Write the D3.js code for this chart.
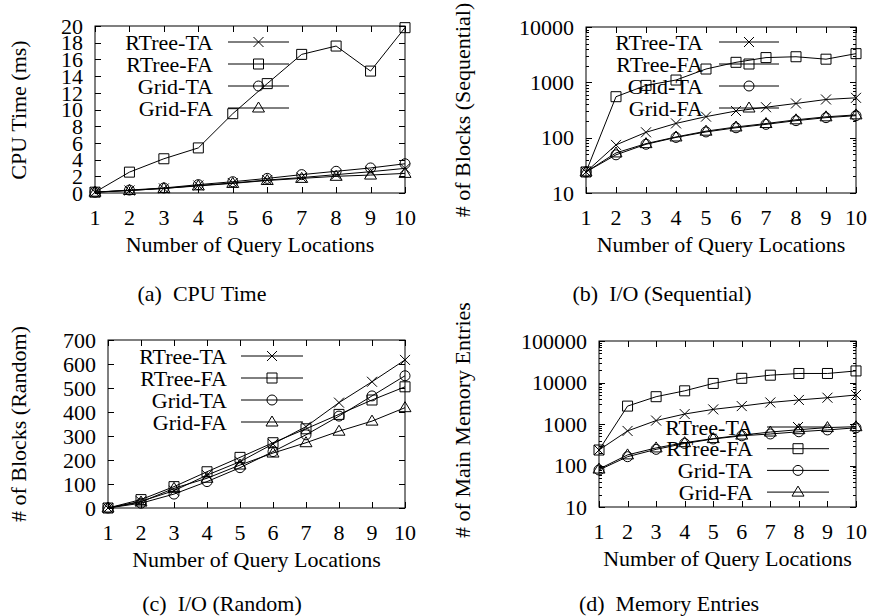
<!DOCTYPE html>
<html>
<head>
<meta charset="utf-8">
<title>Query locations</title>
<script src="https://d3js.org/d3.v7.min.js"></script>
<style>
body { margin: 0; background: #fff; }
svg { font-family: "Liberation Serif", "Times New Roman", serif; }
text { font-size: 22px; fill: #000; }
.caption { white-space: pre; }
</style>
</head>
<body>
<script>
var queries = [1, 2, 3, 4, 5, 6, 7, 8, 9, 10];
var seriesNames = ["RTree-TA", "RTree-FA", "Grid-TA", "Grid-FA"];
var symbols = ["cross", "square", "circle", "triangle"];

// (a) CPU time in ms
var cpuRtreeTA = [0.1, 0.3, 0.55, 0.9, 1.2, 1.55, 1.85, 2.2, 2.55, 2.95];
var cpuRtreeFA = [0.1, 2.5, 4.1, 5.4, 9.5, 13.1, 16.6, 17.6, 14.6, 19.8];
var cpuGridTA = [0.1, 0.35, 0.6, 1.0, 1.35, 1.75, 2.2, 2.6, 3.0, 3.5];
var cpuGridFA = [0.1, 0.3, 0.55, 0.85, 1.15, 1.5, 1.75, 2.0, 2.15, 2.35];

// (b) sequential blocks
var seqRtreeTA = [24, 74, 125, 181, 240, 303, 355, 415, 490, 525];
var seqRtreeFA = [24, 550, 880, 1100, 1740, 2300, 2800, 2900, 2620, 3300];
var seqGridTA = [24, 49, 76, 101, 127, 151, 174, 203, 230, 250];
var seqGridFA = [24, 53, 78, 103, 131, 156, 180, 210, 238, 258];

// (c) random blocks
var randRtreeTA = [0, 28, 72, 137, 193, 267, 339, 439, 526, 617];
var randRtreeFA = [0, 35, 89, 151, 211, 272, 330, 390, 450, 505];
var randGridTA = [0, 20, 58, 110, 168, 235, 305, 383, 467, 551];
var randGridFA = [0, 25, 82, 124, 179, 229, 272, 320, 362, 418];

// (d) main memory entries
var memRtreeTA = [236, 680, 1210, 1740, 2250, 2700, 3300, 3800, 4300, 5000];
var memRtreeFA = [236, 2700, 4550, 6300, 9500, 12600, 15000, 16500, 16500, 19000];
var memGridTA = [78, 163, 245, 340, 435, 520, 575, 650, 720, 810];
var memGridFA = [82, 180, 265, 355, 445, 540, 640, 730, 820, 860];

var cpuTicks = [0, 2, 4, 6, 8, 10, 12, 14, 16, 18, 20];
var seqTicks = [10, 100, 1000, 10000];
var randTicks = [0, 100, 200, 300, 400, 500, 600, 700];
var memTicks = [10, 100, 1000, 10000, 100000];

var panels = [
  {caption: "(a)  CPU Time", ylabel: "CPU Time (ms)", log: false, domain: [0, 20], ticks: cpuTicks,
   data: [cpuRtreeTA, cpuRtreeFA, cpuGridTA, cpuGridFA],
   box: {left: 95, right: 405, top: 26, bottom: 193}, ylabelX: 18, ylabelY: 110, captionX: 202, captionY: 293,
   legend: {textRight: 213, x0: 228, x1: 289, y: 42, step: 22}},
  {caption: "(b)  I/O (Sequential)", ylabel: "# of Blocks (Sequential)", log: true, domain: [10, 10000], ticks: seqTicks,
   data: [seqRtreeTA, seqRtreeFA, seqGridTA, seqGridFA],
   box: {left: 586, right: 856, top: 27, bottom: 193}, ylabelX: 462, ylabelY: 110, captionX: 662, captionY: 293,
   legend: {textRight: 703, x0: 719, x1: 779, y: 42, step: 22}},
  {caption: "(c)  I/O (Random)", ylabel: "# of Blocks (Random)", log: false, domain: [0, 700], ticks: randTicks,
   data: [randRtreeTA, randRtreeFA, randGridTA, randGridFA],
   box: {left: 108, right: 405, top: 340, bottom: 508}, ylabelX: 18, ylabelY: 424, captionX: 222, captionY: 603,
   legend: {textRight: 227, x0: 241, x1: 303, y: 356, step: 22}},
  {caption: "(d)  Memory Entries", ylabel: "# of Main Memory Entries", log: true, domain: [10, 100000], ticks: memTicks,
   data: [memRtreeTA, memRtreeFA, memGridTA, memGridFA],
   box: {left: 599, right: 856, top: 341, bottom: 507}, ylabelX: 462, ylabelY: 420, captionX: 669, captionY: 603,
   legend: {textRight: 753, x0: 767, x1: 829, y: 427, step: 21.7}}
];

var svg = d3.select("body").append("svg")
    .attr("width", 869)
    .attr("height", 616);

function marker(g, type, x, y) {
  if (type == "circle") {
    g.append("circle").attr("cx", x).attr("cy", y).attr("r", 5)
      .attr("fill", "none").attr("stroke", "#000");
  } else {
    var p = d3.path();
    if (type == "square") {
      p.rect(x - 5, y - 5, 10, 10);
    } else if (type == "triangle") {
      p.moveTo(x, y - 6); p.lineTo(x + 6, y + 4); p.lineTo(x - 6, y + 4); p.closePath();
    } else {
      p.moveTo(x - 5, y - 5); p.lineTo(x + 5, y + 5);
      p.moveTo(x + 5, y - 5); p.lineTo(x - 5, y + 5);
    }
    g.append("path").attr("d", p.toString())
      .attr("fill", "none").attr("stroke", "#000");
  }
}

panels.forEach(function(pn) {
  var b = pn.box;
  var g = svg.append("g");
  var x = d3.scaleLinear().domain([1, 10]).range([b.left, b.right]);
  var y = (pn.log ? d3.scaleLog() : d3.scaleLinear()).domain(pn.domain).range([b.bottom, b.top]);

  // frame
  g.append("rect")
      .attr("x", b.left).attr("y", b.top)
      .attr("width", b.right - b.left).attr("height", b.bottom - b.top)
      .attr("fill", "none").attr("stroke", "#000");

  // x ticks, mirrored on top
  queries.forEach(function(q) {
    var px = Math.round(x(q)) + 0.5;
    g.append("line").attr("x1", px).attr("x2", px).attr("y1", b.bottom).attr("y2", b.bottom - 6).attr("stroke", "#000");
    g.append("line").attr("x1", px).attr("x2", px).attr("y1", b.top).attr("y2", b.top + 6).attr("stroke", "#000");
    g.append("text").attr("x", x(q)).attr("y", b.bottom + 24).attr("dy", "0.35em")
      .attr("text-anchor", "middle").text(q);
  });

  // y ticks, mirrored on right
  pn.ticks.forEach(function(t) {
    var py = Math.round(y(t)) + 0.5;
    g.append("line").attr("x1", b.left).attr("x2", b.left + 6).attr("y1", py).attr("y2", py).attr("stroke", "#000");
    g.append("line").attr("x1", b.right).attr("x2", b.right - 6).attr("y1", py).attr("y2", py).attr("stroke", "#000");
    g.append("text").attr("x", b.left - 12).attr("y", y(t)).attr("dy", "0.35em")
      .attr("text-anchor", "end").text(t);
  });
  if (pn.log) {
    // minor ticks 2..9 inside each decade
    pn.ticks.slice(0, -1).forEach(function(t) {
      for (var k = 2; k < 10; k++) {
        var py = Math.round(y(t * k)) + 0.5;
        g.append("line").attr("x1", b.left).attr("x2", b.left + 3).attr("y1", py).attr("y2", py).attr("stroke", "#000");
        g.append("line").attr("x1", b.right).attr("x2", b.right - 3).attr("y1", py).attr("y2", py).attr("stroke", "#000");
      }
    });
  }

  // axis labels and caption
  g.append("text")
      .attr("transform", "translate(" + pn.ylabelX + "," + pn.ylabelY + ") rotate(-90)")
      .attr("dy", "0.35em").attr("text-anchor", "middle").text(pn.ylabel);
  g.append("text").attr("x", (b.left + b.right) / 2).attr("y", b.bottom + 51).attr("dy", "0.35em")
      .attr("text-anchor", "middle").text("Number of Query Locations");
  g.append("text").attr("class", "caption").attr("x", pn.captionX).attr("y", pn.captionY).attr("dy", "0.35em")
      .attr("text-anchor", "middle").text(pn.caption);

  // legend (drawn under the data, like gnuplot)
  var L = pn.legend;
  seriesNames.forEach(function(name, i) {
    var ly = L.y + i * L.step;
    g.append("text").attr("x", L.textRight).attr("y", ly).attr("dy", "0.35em")
      .attr("text-anchor", "end").text(name);
    g.append("line").attr("x1", L.x0).attr("x2", L.x1).attr("y1", ly).attr("y2", ly).attr("stroke", "#000");
    marker(g, symbols[i], (L.x0 + L.x1) / 2, ly);
  });

  // series
  var line = d3.line()
      .x(function(d, i) { return x(queries[i]); })
      .y(function(d) { return y(d); });
  pn.data.forEach(function(vals, i) {
    g.append("path").datum(vals).attr("d", line)
      .attr("fill", "none").attr("stroke", "#000");
    vals.forEach(function(v, j) {
      marker(g, symbols[i], x(queries[j]), y(v));
    });
  });
});
</script>
</body>
</html>
